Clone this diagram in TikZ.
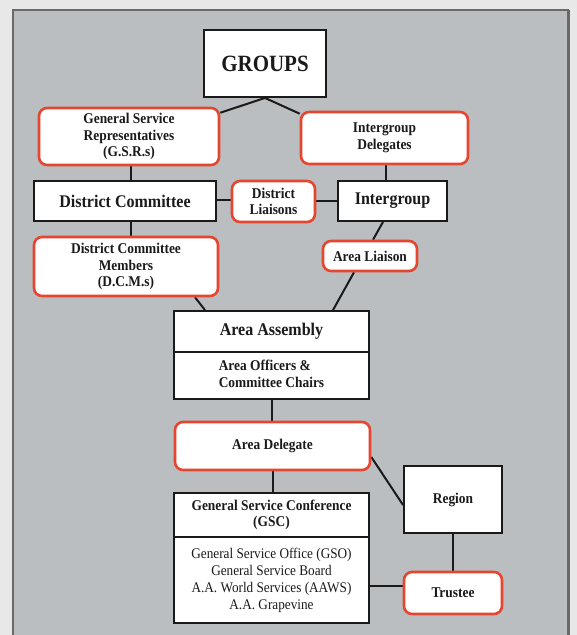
\documentclass[tikz,border=0pt]{standalone}
\usepackage{fontspec}
\setmainfont{Liberation Serif}[FakeStretch=0.9]
\usetikzlibrary{calc}
\pgfdeclarelayer{bg}
\pgfdeclarelayer{back}
\pgfsetlayers{bg,back,main}
\definecolor{outerbg}{RGB}{232,232,232}
\definecolor{panel}{RGB}{186,190,192}
\definecolor{panelborder}{RGB}{105,105,105}
\definecolor{redline}{RGB}{228,70,48}
\definecolor{ink}{RGB}{26,26,26}
\tikzset{
  plainbox/.style={draw=ink, line width=1.9pt, fill=white, inner sep=0pt, align=center, text=ink},
  redbox/.style={draw=redline, line width=2.6pt, fill=white, rounded corners=8pt, inner sep=0pt, align=center, text=ink},
  smallbold/.style={font=\fontsize{14.9}{16.5}\selectfont\bfseries},
  midbold/.style={font=\fontsize{17.8}{19}\selectfont\bfseries},
  conn/.style={draw=ink, line width=2pt}
}
\begin{document}
\begin{tikzpicture}[x=1pt,y=-1pt]
\useasboundingbox (0,0) rectangle (577,635);
\begin{pgfonlayer}{bg}
\fill[outerbg] (0,0) rectangle (577,635);
\fill[panel] (13,10) rectangle (570,640);
\draw[panelborder, line width=2pt] (13,645) -- (13,10) -- (569,10);
\draw[panelborder, line width=3pt] (568.5,10) -- (568.5,645);
\end{pgfonlayer}

\node[plainbox, minimum width=122pt, minimum height=67pt, font=\fontsize{23.3}{24}\selectfont\bfseries] (groups) at (265,63.5) {GROUPS};
\node[redbox, smallbold, minimum width=180pt, minimum height=57pt] (gsr) at (129,136.5) {General Service\\Representatives\\(G.S.R.s)};
\node[redbox, smallbold, minimum width=167pt, minimum height=52pt] (igd) at (384.5,138) {Intergroup\\Delegates};
\node[plainbox, midbold, minimum width=182pt, minimum height=40pt] (dc) at (125,201) {District Committee};
\node[redbox, smallbold, minimum width=83pt, minimum height=41pt] (dl) at (273.5,201.5) {District\\Liaisons};
\node[plainbox, midbold, minimum width=109pt, minimum height=40pt] (ig) at (392.5,201) {Intergroup};
\node[redbox, smallbold, minimum width=184pt, minimum height=59pt] (dcm) at (126,266.5) {District Committee\\Members\\(D.C.M.s)};
\node[redbox, smallbold, minimum width=94pt, minimum height=30pt] (al) at (370,256) {Area Liaison};
\node[plainbox, midbold, minimum width=195pt, minimum height=41pt] (aa) at (271.5,331.5) {Area Assembly};
\node[plainbox, smallbold, minimum width=195pt, minimum height=47pt] (aoc) at (271.5,375.5) {\begin{tabular}{@{}l@{}}Area Officers \&\\Committee Chairs\end{tabular}};
\node[redbox, smallbold, minimum width=195pt, minimum height=48pt] (ad) at (272.5,446) {Area Delegate};
\node[plainbox, smallbold, minimum width=195pt, minimum height=44pt] (gsc) at (271.5,515) {General Service Conference\\(GSC)};
\node[plainbox, font=\fontsize{14.7}{17}\selectfont, minimum width=195pt, minimum height=86pt] (gso) at (271.5,580) {General Service Office (GSO)\\General Service Board\\A.A. World Services (AAWS)\\A.A. Grapevine};
\node[plainbox, smallbold, minimum width=98pt, minimum height=67pt] (region) at (453,499.5) {Region};
\node[redbox, smallbold, minimum width=98pt, minimum height=42pt] (trustee) at (453,593) {Trustee};

\begin{pgfonlayer}{back}
\draw[conn] (groups.south) -- ([yshift=-6pt]gsr.north east);
\draw[conn] (groups.south) -- ([yshift=-3pt]igd.north west);
\draw[conn] ([xshift=2pt]gsr.south) -- ([xshift=2pt]gsr.south |- dc.north);
\draw[conn] ([xshift=1.5pt]igd.south) -- ([xshift=1.5pt]igd.south |- ig.north);
\draw[conn] ([yshift=1pt]dc.east) -- ([yshift=1pt]dc.east -| dl.west);
\draw[conn] ([yshift=1pt]dl.east) -- ([yshift=1pt]dl.east -| ig.west);
\draw[conn] ([xshift=6pt]dc.south) -- ([xshift=6pt]dc.south |- dcm.north);
\draw[conn] ([xshift=-9.5pt]ig.south) -- ([xshift=3pt]al.north);
\draw[conn] ([xshift=-16pt]al.south) -- ([xshift=61.5pt]aa.north);
\draw[conn] ([xshift=69pt]dcm.south) -- ([xshift=-66.5pt]aa.north);
\draw[conn] (aoc.south) -- (aoc.south |- ad.north);
\draw[conn] (ad.south) -- (ad.south |- gsc.north);
\draw[conn] ([yshift=-11pt]ad.east) -- ([yshift=-5.5pt]region.west);
\draw[conn] (region.south) -- (trustee.north);
\draw[conn] ([yshift=-6pt]gso.east) -- ([yshift=-6pt]gso.east -| trustee.west);
\end{pgfonlayer}
\end{tikzpicture}
\end{document}
